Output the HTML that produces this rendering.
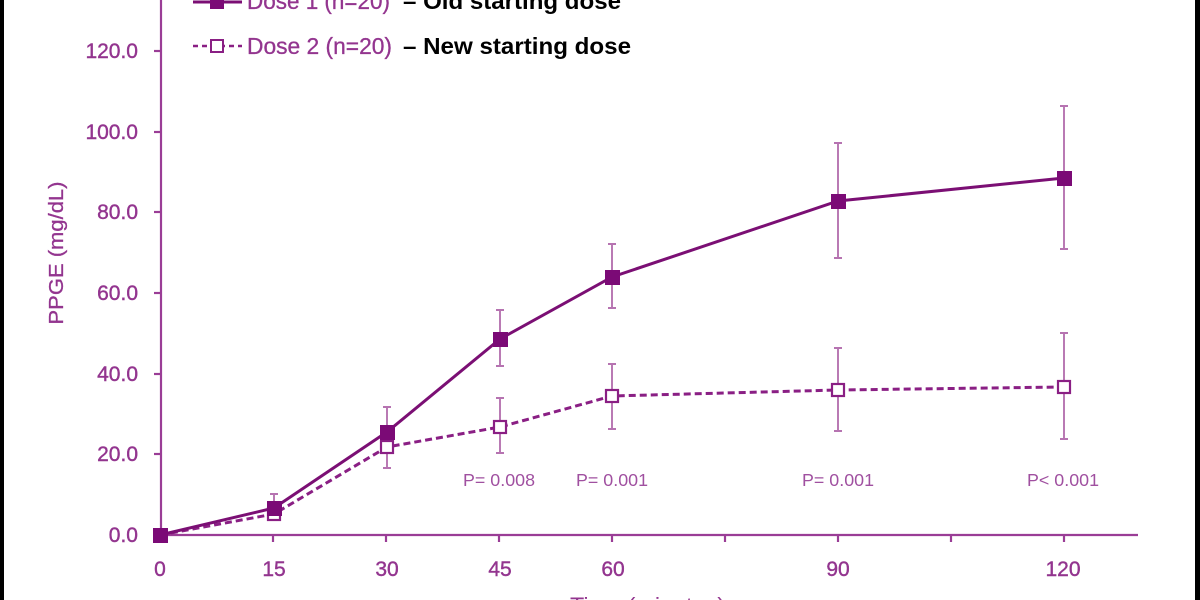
<!DOCTYPE html>
<html><head><meta charset="utf-8"><style>
html,body{margin:0;padding:0;background:#fff;}
svg{display:block;}
</style></head><body>
<svg width="1200" height="600" viewBox="0 0 1200 600" xmlns="http://www.w3.org/2000/svg">
<rect x="0" y="0" width="1200" height="600" fill="#fff"/>
<rect x="0" y="0" width="4" height="600" fill="#000"/>
<rect x="1195" y="0" width="5" height="600" fill="#000"/>

<!-- axes -->
<g stroke="#9a3d96" stroke-width="2.2" fill="none">
<line x1="161" y1="0" x2="161" y2="536"/>
<line x1="160" y1="535" x2="1138" y2="535"/>
<line x1="154" y1="454" x2="161" y2="454"/>
<line x1="154" y1="374" x2="161" y2="374"/>
<line x1="154" y1="293" x2="161" y2="293"/>
<line x1="154" y1="212" x2="161" y2="212"/>
<line x1="154" y1="132" x2="161" y2="132"/>
<line x1="154" y1="51" x2="161" y2="51"/>
<line x1="273" y1="535" x2="273" y2="542"/>
<line x1="386" y1="535" x2="386" y2="542"/>
<line x1="499" y1="535" x2="499" y2="542"/>
<line x1="612" y1="535" x2="612" y2="542"/>
<line x1="725" y1="535" x2="725" y2="542"/>
<line x1="838" y1="535" x2="838" y2="542"/>
<line x1="951" y1="535" x2="951" y2="542"/>
<line x1="1064" y1="535" x2="1064" y2="542"/>
</g>

<!-- y tick labels -->
<g font-family="Liberation Sans, sans-serif" font-size="21" fill="#93358f" stroke="#93358f" stroke-width="0.4" text-anchor="end">
<text x="138" y="542">0.0</text>
<text x="138" y="461">20.0</text>
<text x="138" y="381">40.0</text>
<text x="138" y="300">60.0</text>
<text x="138" y="219">80.0</text>
<text x="138" y="139">100.0</text>
<text x="138" y="58">120.0</text>
</g>
<text transform="translate(63,253) rotate(-90)" font-family="Liberation Sans, sans-serif" font-size="20" fill="#93358f" stroke="#93358f" stroke-width="0.3" text-anchor="middle" textLength="143" lengthAdjust="spacingAndGlyphs">PPGE (mg/dL)</text>

<!-- x tick labels -->
<g font-family="Liberation Sans, sans-serif" font-size="21" fill="#93358f" stroke="#93358f" stroke-width="0.4" text-anchor="middle">
<text x="160" y="576">0</text>
<text x="274" y="576">15</text>
<text x="387" y="576">30</text>
<text x="500" y="576">45</text>
<text x="613" y="576">60</text>
<text x="838" y="576">90</text>
<text x="1063" y="576">120</text>
</g>
<text x="570" y="613" font-family="Liberation Sans, sans-serif" font-size="22" fill="#93358f" textLength="155" lengthAdjust="spacingAndGlyphs">Time (minutes)</text>

<!-- P values -->
<g font-family="Liberation Sans, sans-serif" font-size="17.5" fill="#a050a0" text-anchor="middle">
<text x="499" y="486" textLength="72" lengthAdjust="spacingAndGlyphs">P= 0.008</text>
<text x="612" y="486" textLength="72" lengthAdjust="spacingAndGlyphs">P= 0.001</text>
<text x="838" y="486" textLength="72" lengthAdjust="spacingAndGlyphs">P= 0.001</text>
<text x="1063" y="486" textLength="72" lengthAdjust="spacingAndGlyphs">P&lt; 0.001</text>
</g>

<!-- error bars -->
<g stroke="#b673b1" stroke-width="1.9" fill="none">
<path d="M274 494V508M270 494H278"/>
<path d="M387 407V432M383 407H391"/>
<path d="M500 310V366M496 310H504M496 366H504"/>
<path d="M612 244V308M608 244H616M608 308H616"/>
<path d="M838 143V258M834 143H842M834 258H842"/>
<path d="M1064 106V249M1060 106H1068M1060 249H1068"/>
<path d="M387 447V468M383 468H391"/>
<path d="M500 398V453M496 398H504M496 453H504"/>
<path d="M612 364V429M608 364H616M608 429H616"/>
<path d="M838 348V431M834 348H842M834 431H842"/>
<path d="M1064 333V439M1060 333H1068M1060 439H1068"/>
</g>

<!-- dose 2 dashed -->
<polyline points="160,535 274,514 387,447 500,427 612,396 838,390 1064,387" fill="none" stroke="#8a1f84" stroke-width="3" stroke-dasharray="7,4"/>
<!-- dose 1 solid -->
<polyline points="160,535 274,508 387,432 500,339 612,277 838,201 1064,178" fill="none" stroke="#7b0f74" stroke-width="3"/>

<!-- dose2 markers -->
<g fill="#fff" stroke="#8a1f84" stroke-width="2.2">
<rect x="268" y="508" width="12" height="12"/>
<rect x="381" y="441" width="12" height="12"/>
<rect x="494" y="421" width="12" height="12"/>
<rect x="606" y="390" width="12" height="12"/>
<rect x="832" y="384" width="12" height="12"/>
<rect x="1058" y="381" width="12" height="12"/>
</g>
<!-- dose1 markers -->
<g fill="#7b0a76">
<rect x="153" y="528" width="15" height="15"/>
<rect x="267" y="501" width="15" height="15"/>
<rect x="380" y="425" width="15" height="15"/>
<rect x="493" y="332" width="15" height="15"/>
<rect x="605" y="270" width="15" height="15"/>
<rect x="831" y="194" width="15" height="15"/>
<rect x="1057" y="171" width="15" height="15"/>
</g>

<!-- legend -->
<line x1="193" y1="2" x2="242" y2="2" stroke="#7b0f74" stroke-width="3"/>
<rect x="210" y="-5" width="14" height="14" fill="#7b0a76"/>
<text x="247" y="9" font-family="Liberation Sans, sans-serif" font-size="23" fill="#93358f" stroke="#93358f" stroke-width="0.3" textLength="143" lengthAdjust="spacingAndGlyphs">Dose 1 (n=20)</text>
<text x="403" y="9" font-family="Liberation Sans, sans-serif" font-size="23" font-weight="bold" fill="#000" textLength="218" lengthAdjust="spacingAndGlyphs">– Old starting dose</text>

<line x1="193" y1="46" x2="242" y2="46" stroke="#8a1f84" stroke-width="2.6" stroke-dasharray="5,4"/>
<rect x="211" y="40" width="12" height="12" fill="#fff" stroke="#8a1f84" stroke-width="2"/>
<text x="247" y="54" font-family="Liberation Sans, sans-serif" font-size="23" fill="#93358f" stroke="#93358f" stroke-width="0.3" textLength="145" lengthAdjust="spacingAndGlyphs">Dose 2 (n=20)</text>
<text x="403" y="54" font-family="Liberation Sans, sans-serif" font-size="23" font-weight="bold" fill="#000" textLength="228" lengthAdjust="spacingAndGlyphs">– New starting dose</text>
</svg>
</body></html>
